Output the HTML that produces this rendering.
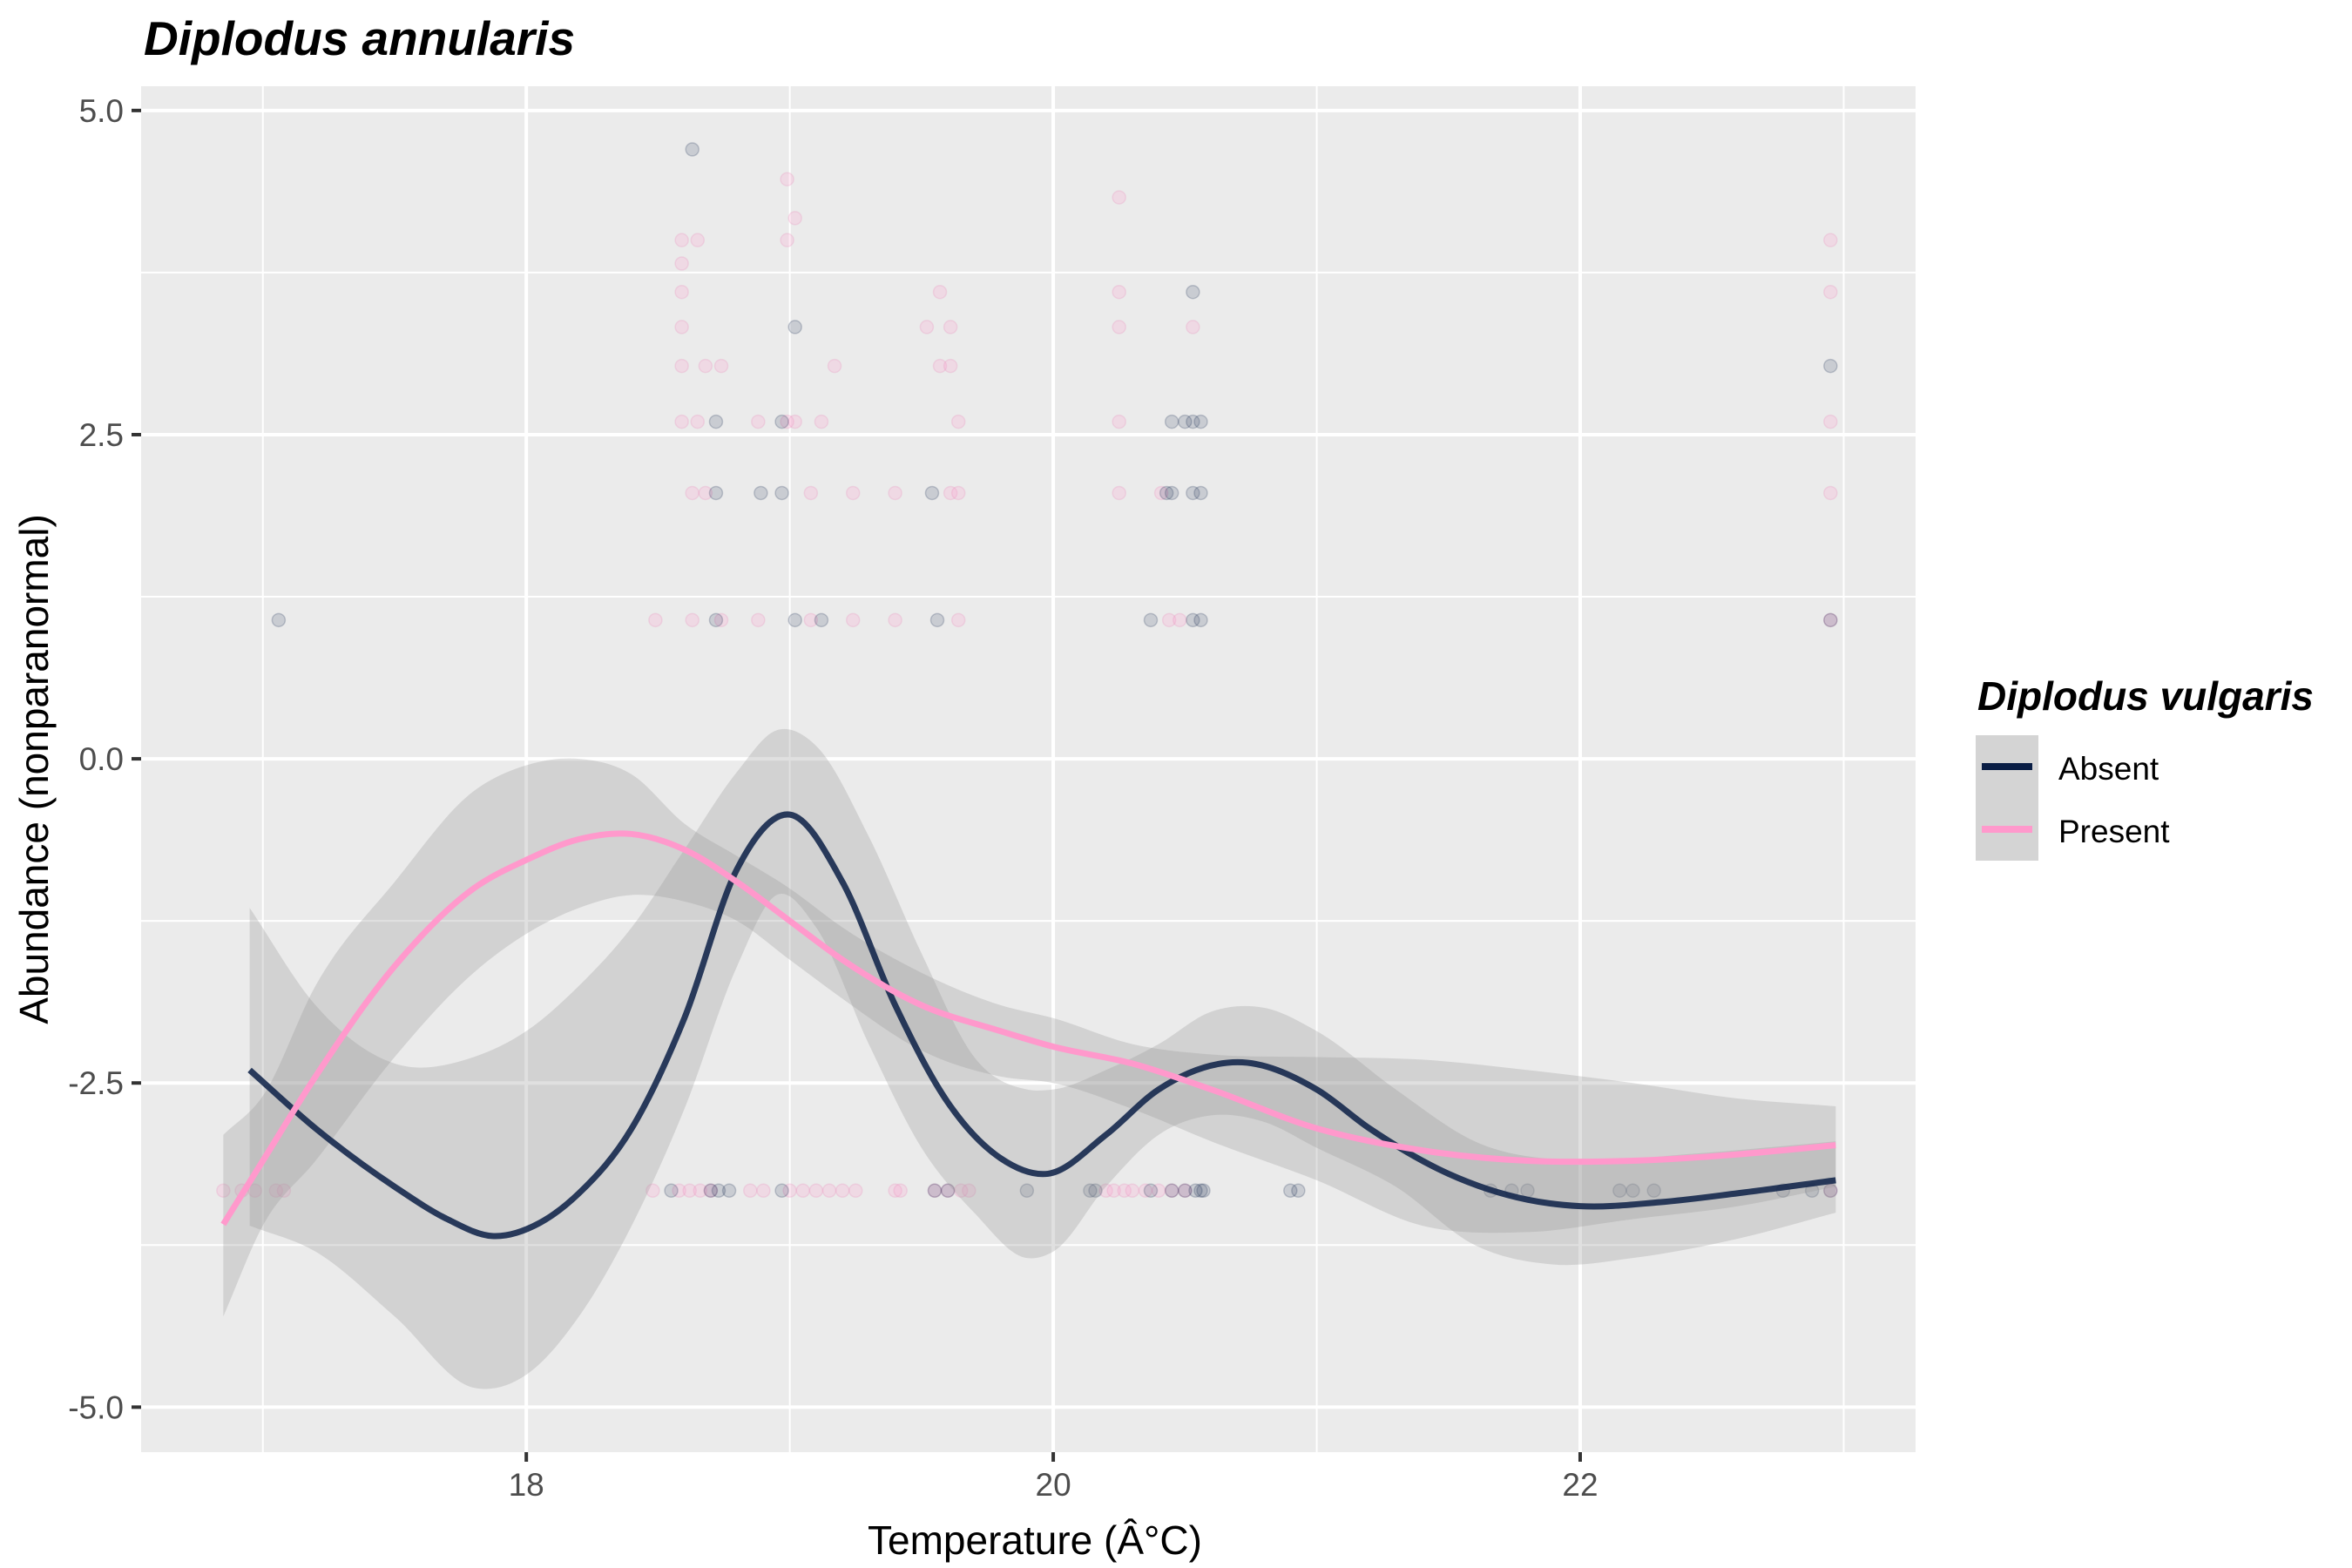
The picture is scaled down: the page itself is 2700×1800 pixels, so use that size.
<!DOCTYPE html>
<html><head><meta charset="utf-8"><style>
html,body{margin:0;padding:0;background:#fff;}
svg{display:block;font-family:"Liberation Sans",sans-serif;}
</style></head><body>
<svg id="chart" width="2700" height="1800" viewBox="0 0 2700 1800">
<rect x="0" y="0" width="2700" height="1800" fill="#fff"/>
<text x="165" y="63" font-size="55" font-weight="bold" font-style="italic" fill="#000">Diplodus annularis</text>
<g id="panel"></g>
<text x="1188" y="1784" font-size="46" text-anchor="middle" fill="#000">Temperature (Â°C)</text>
<text transform="translate(55,883) rotate(-90)" font-size="46" text-anchor="middle" fill="#000">Abundance (nonparanormal)</text>
<g>
<text x="2270" y="815" font-size="46" font-weight="bold" font-style="italic" fill="#000">Diplodus vulgaris</text>
<rect x="2268" y="844" width="72" height="72" fill="#D4D4D4"/>
<rect x="2268" y="916" width="72" height="72" fill="#D4D4D4"/>
<line x1="2275" x2="2333" y1="880" y2="880" stroke="#0A1E45" stroke-width="8"/>
<line x1="2275" x2="2333" y1="952" y2="952" stroke="#FF99CC" stroke-width="8"/>
<text x="2363" y="895" font-size="37" fill="#000">Absent</text>
<text x="2363" y="967" font-size="37" fill="#000">Present</text>
</g>
</svg>
<script>
// ---- data ----
const xTicks = [18, 20, 22];
const xMinor = [17, 19, 21, 23];
const yTicks = [-5, -2.5, 0, 2.5, 5];
const yTickLabels = ["-5.0", "-2.5", "0.0", "2.5", "5.0"];
const yMinor = [-3.75, -1.25, 1.25, 3.75];

const absentPtsX = [17.06,18.63,18.72,18.72,18.72,18.89,18.97,18.97,19.02,19.02,19.12,19.54,19.56,20.37,20.43,20.45,20.45,20.5,20.53,20.53,20.53,20.53,20.56,20.56,20.56,22.95,22.95,
 18.55,18.7,18.73,18.77,18.97,19.55,19.6,19.9,20.14,20.16,20.37,20.45,20.5,20.54,20.56,20.57,20.9,20.93,21.66,21.74,21.8,22.15,22.2,22.28,22.77,22.88,22.95];
const absentPtsY = [1.07,4.7,2.6,2.05,1.07,2.05,2.05,2.6,3.33,1.07,1.07,2.05,1.07,1.07,2.05,2.05,2.6,2.6,3.6,2.6,2.05,1.07,2.6,2.05,1.07,3.03,1.07,
 -3.33,-3.33,-3.33,-3.33,-3.33,-3.33,-3.33,-3.33,-3.33,-3.33,-3.33,-3.33,-3.33,-3.33,-3.33,-3.33,-3.33,-3.33,-3.33,-3.33,-3.33,-3.33,-3.33,-3.33,-3.33,-3.33,-3.33];
const presentPtsX = [18.49,18.59,18.59,18.59,18.59,18.59,18.59,18.63,18.63,18.65,18.65,18.68,18.68,18.74,18.74,18.88,18.88,18.99,18.99,18.99,19.02,19.02,19.08,19.08,19.12,19.17,19.24,19.24,19.4,19.4,19.52,19.57,19.57,19.61,19.61,19.61,19.64,19.64,19.64,20.25,20.25,20.25,20.25,20.25,20.41,20.44,20.48,20.53,22.95,22.95,22.95,22.95,22.95,
 16.85,16.92,16.97,17.05,17.08,18.48,18.58,18.62,18.66,18.7,18.85,18.9,19.0,19.05,19.1,19.15,19.2,19.25,19.4,19.42,19.55,19.6,19.65,19.68,20.2,20.23,20.27,20.3,20.35,20.4,20.45,20.5,22.95];
const presentPtsY = [1.07,4.0,3.82,3.6,3.33,3.03,2.6,2.05,1.07,4.0,2.6,3.03,2.05,3.03,1.07,2.6,1.07,4.47,4.0,2.6,4.17,2.6,2.05,1.07,2.6,3.03,2.05,1.07,2.05,1.07,3.33,3.6,3.03,3.33,2.05,3.03,2.6,2.05,1.07,4.33,3.6,3.33,2.6,2.05,2.05,1.07,1.07,3.33,4.0,3.6,2.6,2.05,1.07,
 -3.33,-3.33,-3.33,-3.33,-3.33,-3.33,-3.33,-3.33,-3.33,-3.33,-3.33,-3.33,-3.33,-3.33,-3.33,-3.33,-3.33,-3.33,-3.33,-3.33,-3.33,-3.33,-3.33,-3.33,-3.33,-3.33,-3.33,-3.33,-3.33,-3.33,-3.33,-3.33,-3.33];

const absentX = [16.95,17.2,17.5,17.7,17.87,18.05,18.2,18.4,18.6,18.8,19.0,19.2,19.4,19.6,19.8,19.98,20.2,20.4,20.7,21.0,21.2,21.5,21.8,22.0,22.3,22.6,22.97];
const absentY = [-2.4,-2.85,-3.3,-3.55,-3.68,-3.58,-3.35,-2.85,-2.0,-0.85,-0.43,-0.95,-1.9,-2.65,-3.08,-3.2,-2.9,-2.55,-2.34,-2.55,-2.85,-3.2,-3.4,-3.45,-3.42,-3.35,-3.25];
const absentHiX = [16.95,17.2,17.5,17.8,18.0,18.2,18.4,18.6,18.8,18.95,19.1,19.3,19.5,19.7,19.9,20.0,20.2,20.4,20.6,20.8,21.0,21.3,21.6,22.0,22.4,22.97];
const absentHi = [-1.15,-1.9,-2.35,-2.3,-2.1,-1.75,-1.3,-0.7,-0.1,0.22,0.1,-0.6,-1.5,-2.3,-2.55,-2.55,-2.4,-2.2,-1.95,-1.92,-2.1,-2.55,-2.95,-3.1,-3.05,-2.95];
const absentLoX = [16.95,17.2,17.5,17.8,18.0,18.2,18.4,18.6,18.8,18.95,19.1,19.3,19.5,19.7,19.9,20.0,20.2,20.4,20.6,20.8,21.0,21.3,21.6,21.9,22.2,22.6,22.97];
const absentLo = [-3.6,-3.8,-4.3,-4.85,-4.75,-4.3,-3.6,-2.7,-1.6,-1.05,-1.3,-2.2,-3.0,-3.5,-3.85,-3.8,-3.3,-2.9,-2.75,-2.8,-3.0,-3.3,-3.75,-3.9,-3.85,-3.7,-3.5];

const presentX = [16.85,17.0,17.2,17.5,17.8,18.0,18.2,18.4,18.6,18.8,19.0,19.2,19.5,19.8,20.0,20.3,20.6,21.0,21.4,21.8,22.2,22.6,22.97];
const presentY = [-3.59,-3.1,-2.45,-1.6,-1.0,-0.78,-0.62,-0.58,-0.7,-0.95,-1.25,-1.55,-1.9,-2.1,-2.22,-2.35,-2.55,-2.85,-3.02,-3.1,-3.1,-3.05,-2.98];
const presentHi = [-2.9,-2.6,-1.75,-0.95,-0.25,-0.05,0.0,-0.12,-0.5,-0.75,-1.0,-1.3,-1.65,-1.9,-2.0,-2.2,-2.28,-2.3,-2.32,-2.4,-2.5,-2.62,-2.68];
const presentLo = [-4.3,-3.6,-3.1,-2.3,-1.65,-1.35,-1.15,-1.05,-1.1,-1.25,-1.55,-1.85,-2.25,-2.45,-2.5,-2.7,-2.95,-3.25,-3.6,-3.65,-3.55,-3.45,-3.3];

// ---- scales ----
const PL=162, PR=2199, PT=99, PB=1667;
const X0=16.538, X1=23.273, Y0=-5.347, Y1=5.187;
function sx(v){return PL+(v-X0)/(X1-X0)*(PR-PL);}
function sy(v){return PB-(v-Y0)/(Y1-Y0)*(PB-PT);}
const NS="http://www.w3.org/2000/svg";
const svg=document.getElementById('chart');
const panel=document.getElementById('panel');
function mk(tag,attrs,parent){const e=document.createElementNS(NS,tag);for(const k in attrs)e.setAttribute(k,attrs[k]);(parent||panel).appendChild(e);return e;}

let bg=mk('rect',{x:PL,y:PT,width:PR-PL,height:PB-PT,fill:'#EBEBEB'});



xMinor.forEach(v=>{const l=mk('line',{x1:sx(v),x2:sx(v),y1:PT,y2:PB,stroke:'#fff','stroke-width':2});

});
yMinor.forEach(v=>{const l=mk('line',{x1:PL,x2:PR,y1:sy(v),y2:sy(v),stroke:'#fff','stroke-width':2});

});
xTicks.forEach(v=>{const l=mk('line',{x1:sx(v),x2:sx(v),y1:PT,y2:PB,stroke:'#fff','stroke-width':4});


const t=mk('line',{x1:sx(v),x2:sx(v),y1:PB,y2:PB+11,stroke:'#333','stroke-width':4},svg);


const tx=mk('text',{x:sx(v),y:1717,'font-size':37,'text-anchor':'middle',fill:'#4D4D4D'},svg);
tx.textContent=String(v);

});
yTicks.forEach((v,i)=>{const l=mk('line',{x1:PL,x2:PR,y1:sy(v),y2:sy(v),stroke:'#fff','stroke-width':4});


const t=mk('line',{x1:PL-11,x2:PL,y1:sy(v),y2:sy(v),stroke:'#333','stroke-width':4},svg);


const tx=mk('text',{x:PL-20,y:sy(v)+13,'font-size':37,'text-anchor':'end',fill:'#4D4D4D'},svg);
tx.textContent=yTickLabels[i];

});

// points
presentPtsX.forEach((v,i)=>{const c=mk('circle',{cx:sx(v),cy:sy(presentPtsY[i]),r:7.5,fill:'rgba(255,153,204,0.22)',stroke:'rgba(230,130,180,0.22)','stroke-width':1.5});

});
absentPtsX.forEach((v,i)=>{const c=mk('circle',{cx:sx(v),cy:sy(absentPtsY[i]),r:7.5,fill:'rgba(10,30,69,0.15)',stroke:'rgba(10,30,69,0.2)','stroke-width':1.5});

});

// cubic Hermite spline in data x (handles uneven spacing)
function smooth(xs,ys,rev){
  const n=xs.length, m=[];
  for(let i=0;i<n;i++){
    if(i===0)m.push((ys[1]-ys[0])/(xs[1]-xs[0]));
    else if(i===n-1)m.push((ys[n-1]-ys[n-2])/(xs[n-1]-xs[n-2]));
    else{const d0=(ys[i]-ys[i-1])/(xs[i]-xs[i-1]),d1=(ys[i+1]-ys[i])/(xs[i+1]-xs[i]);
      const h0=xs[i]-xs[i-1],h1=xs[i+1]-xs[i];m.push((d0*h1+d1*h0)/(h0+h1));}
  }
  const segs=[];
  for(let i=0;i<n-1;i++){const h=xs[i+1]-xs[i];
    segs.push([[sx(xs[i]),sy(ys[i])],[sx(xs[i]+h/3),sy(ys[i]+m[i]*h/3)],[sx(xs[i+1]-h/3),sy(ys[i+1]-m[i+1]*h/3)],[sx(xs[i+1]),sy(ys[i+1])]]);}
  if(rev){segs.reverse();segs.forEach(s=>s.reverse());}
  let d=(rev?'L':'M')+segs[0][0][0]+','+segs[0][0][1];
  segs.forEach(s=>{d+=' C'+s[1][0]+','+s[1][1]+' '+s[2][0]+','+s[2][1]+' '+s[3][0]+','+s[3][1];});
  return d;
}
function band(hx,hy,lx,ly){return smooth(hx,hy,false)+' '+smooth(lx,ly,true)+' Z';}

const r1=mk('path',{d:band(absentHiX,absentHi,absentLoX,absentLo),fill:'rgba(153,153,153,0.3)'});


const r2=mk('path',{d:band(presentX,presentHi,presentX,presentLo),fill:'rgba(153,153,153,0.3)'});



const l1=mk('path',{d:smooth(absentX,absentY,false),fill:'none',stroke:'#0A1E45','stroke-opacity':0.85,'stroke-width':7});


const l2=mk('path',{d:smooth(presentX,presentY,false),fill:'none',stroke:'#FF99CC','stroke-width':7});


</script>
</body></html>
